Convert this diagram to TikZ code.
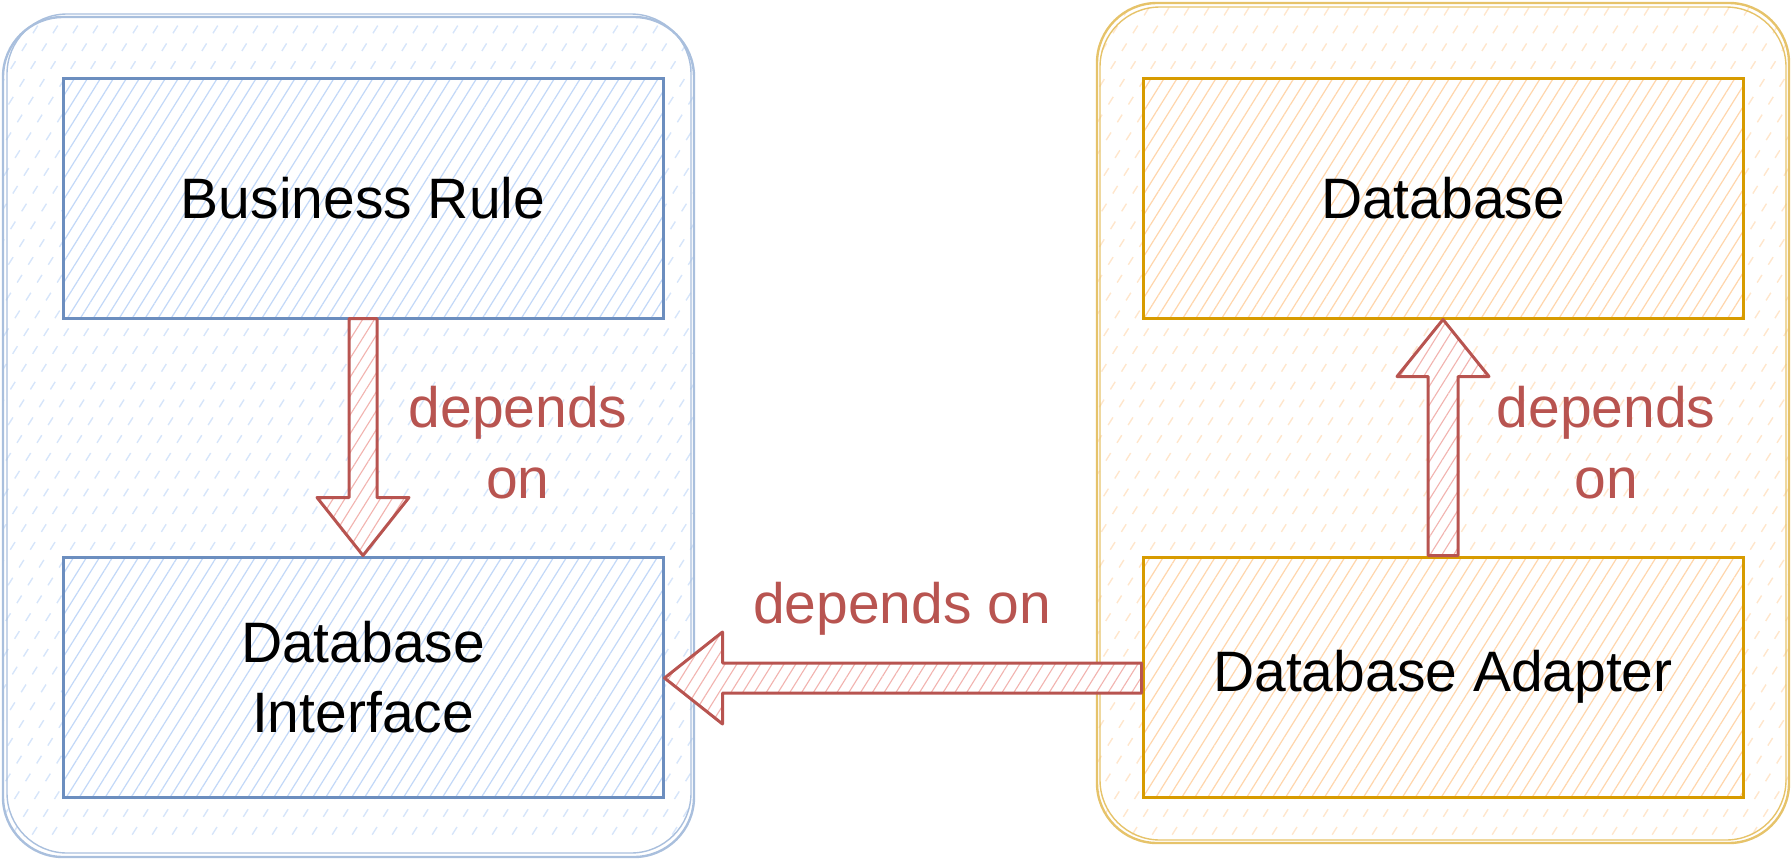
\documentclass[tikz,border=0pt]{standalone}
\usepackage{fontspec}
\setmainfont{Liberation Sans}
\usetikzlibrary{patterns.meta,calc}
\definecolor{bluestroke}{HTML}{6C8EBF}
\definecolor{contblue}{HTML}{A9BFDD}
\definecolor{hatchblue}{HTML}{C2D8F8}
\definecolor{conthatchblue}{HTML}{D6E5FA}
\definecolor{orangestroke}{HTML}{D79B00}
\definecolor{contorange}{HTML}{E6C36A}
\definecolor{hatchorange}{HTML}{FFD6AC}
\definecolor{conthatchorange}{HTML}{FFE6CC}
\definecolor{redfill}{HTML}{F2B3AF}
\definecolor{redstroke}{HTML}{B85450}
\tikzset{
  box/.style={line width=3pt, minimum width=600pt, minimum height=240pt,
    font=\fontsize{57}{70}\selectfont, align=center, text=black, inner sep=0pt,
    preaction={fill=white}},
  bluebox/.style={box, draw=bluestroke, pattern={Lines[angle=58,distance=11pt,line width=1.2pt]}, pattern color=hatchblue},
  orangebox/.style={box, draw=orangestroke, pattern={Lines[angle=58,distance=11pt,line width=1.2pt]}, pattern color=hatchorange},
  blockarrow/.style={draw=redstroke, line width=3pt, line join=round,
    preaction={fill=white},
    pattern={Lines[angle=58,distance=10pt,line width=1.1pt]}, pattern color=redfill},
  deplabel/.style={text=redstroke, font=\fontsize{57}{71}\selectfont, align=center, inner sep=0pt},
  contline/.style={line width=2.4pt, rounded corners=60pt},
}
\begin{document}
\begin{tikzpicture}[x=1pt,y=-1pt]
\useasboundingbox (0,0) rectangle (1792,862);
% containers
\begin{scope}
  \clip[rounded corners=60pt] (3,17) rectangle (694,857);
  \foreach \s in {0,20,...,1300}
    \draw[conthatchblue, line width=1.4pt, dash pattern=on 9pt off 12pt] (\s,-10) -- ++(122:1000);
\end{scope}
\draw[contline, draw=contblue] (3,17) rectangle (694,857);
\draw[contline, draw=contblue, line width=1.4pt] (7,14) rectangle (691,853);
\begin{scope}
  \clip[rounded corners=60pt] (1097,3) rectangle (1789,843);
  \foreach \s in {1000,1020,...,2400}
    \draw[conthatchorange, line width=1.4pt, dash pattern=on 9pt off 12pt] (\s,-10) -- ++(122:1000);
\end{scope}
\draw[contline, draw=contorange] (1097,3) rectangle (1789,843);
\draw[contline, draw=contorange, line width=1.4pt] (1100,7) rectangle (1786,840);
% boxes
\node[bluebox] (br) at (363,198) {Business Rule};
\node[bluebox] (di) at (363,677) {Database\\Interface};
\node[orangebox] (db) at (1443,198) {Database};
\node[orangebox] (da) at (1443,677) {\raisebox{-6pt}{Database Adapter}};
% arrows
\draw[blockarrow] ($(br.south)+(-14,0)$) -- ($(di.north)+(-14,-58)$) -- ($(di.north)+(-46,-58)$)
  -- (di.north) -- ($(di.north)+(46,-58)$) -- ($(di.north)+(14,-58)$) -- ($(br.south)+(14,0)$) -- cycle;
\draw[blockarrow] ($(da.north)+(-15,0)$) -- ($(db.south)+(-15,57)$) -- ($(db.south)+(-46,57)$)
  -- (db.south) -- ($(db.south)+(46,57)$) -- ($(db.south)+(15,57)$) -- ($(da.north)+(15,0)$) -- cycle;
\coordinate (ha) at ($(di.east)+(0,1)$);
\draw[blockarrow] ($(da.west |- ha)+(0,-15)$) -- ($(ha)+(58,-15)$) -- ($(ha)+(58,-46)$)
  -- (ha) -- ($(ha)+(58,46)$) -- ($(ha)+(58,15)$) -- ($(da.west |- ha)+(0,15)$) -- cycle;
% labels
\node[deplabel] (l1) at (518,443) {depends\\on};
\node[deplabel] (l2) at (1606,443) {depends\\on};
\node[deplabel, anchor=base] (l3) at (902,623) {depends on};
\end{tikzpicture}
\end{document}
